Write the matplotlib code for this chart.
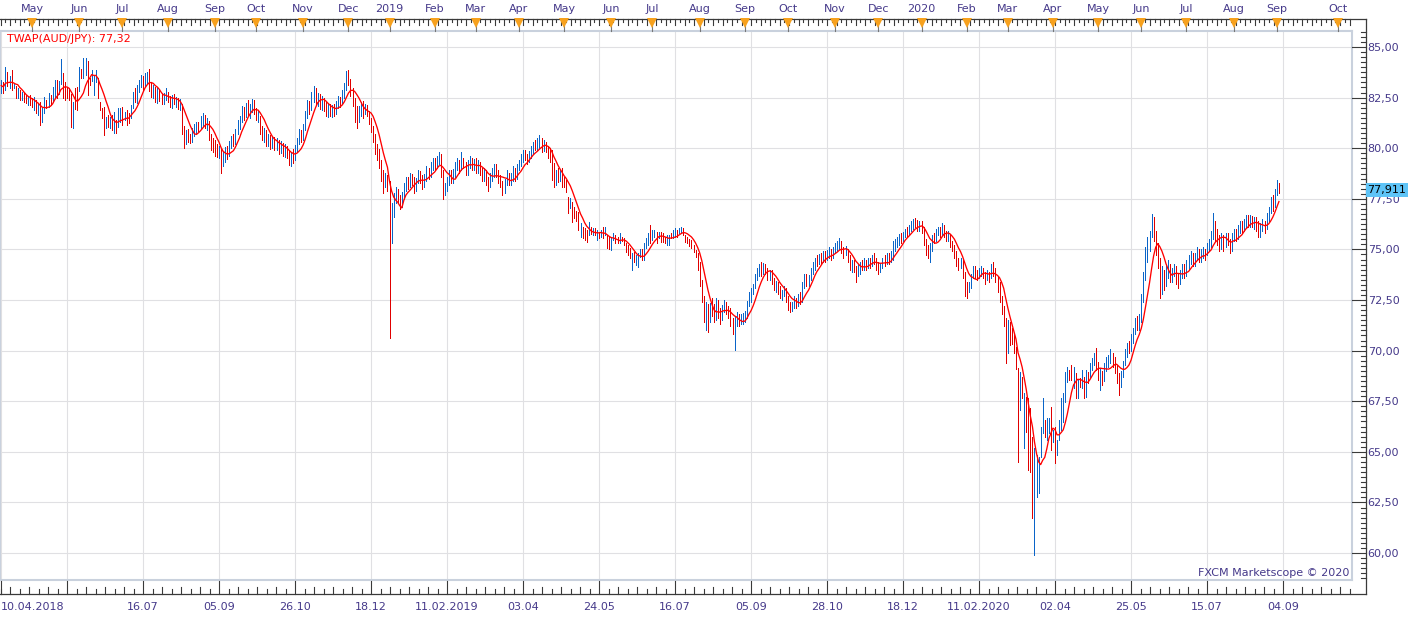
import numpy as np
import pandas as pd
import matplotlib
matplotlib.use("Agg")
import matplotlib.pyplot as plt
import matplotlib.transforms as mtransforms
from matplotlib.ticker import FixedLocator, FuncFormatter

plt.rcParams['font.family'] = ['DejaVu Sans']

# ---------------- data ----------------
START = "2018-04-10"
HOLIDAYS = ["2018-12-25", "2019-01-01", "2019-12-25", "2020-01-01"]
FIRST_OPEN = 82.95

CLOSE = [
    # 2018-04
    83.20, 82.90, 83.75, 83.20, 83.45, 83.00, 83.08, 82.55, 82.85, 82.50, 82.72, 82.42, 82.30, 82.50, 82.22,
    # 2018-05
    82.12, 82.38, 81.88, 82.05, 81.40, 81.92, 82.40, 82.12, 82.62, 82.32, 82.92, 83.22, 82.75, 83.20, 83.70,
    82.85, 82.70, 82.55, 82.45, 81.30, 82.10, 82.05, 82.00,
    # 2018-06
    83.80, 83.55, 83.60, 84.30, 83.40, 83.35, 83.50, 83.60, 83.80, 82.75, 82.05, 81.60, 81.40, 81.45, 81.15,
    81.35, 81.10, 81.55, 80.95, 81.80, 81.95,
    # 2018-07
    81.30, 81.70, 81.35, 81.28, 81.90, 82.70, 82.40, 82.85, 83.30, 83.45, 83.10, 83.50, 83.65, 83.05, 82.70,
    82.95, 82.40, 82.80, 82.55, 82.35, 82.60, 82.75,
    # 2018-08
    82.45, 82.20, 82.55, 82.35, 82.40, 82.10, 82.25, 81.00, 80.30, 80.70, 80.50, 80.35, 80.80, 80.90, 81.20,
    81.05, 81.40, 81.55, 81.20, 81.30, 80.60, 80.30, 80.10,
    # 2018-09
    79.80, 79.75, 79.95, 79.35, 79.55, 79.90, 79.70, 80.20, 80.45, 80.30, 80.80, 81.20, 81.45, 81.90, 81.70,
    82.10, 81.80, 82.00, 82.20, 81.90,
    # 2018-10
    81.50, 81.70, 80.90, 80.60, 80.85, 80.40, 80.55, 80.20, 80.45, 80.10, 80.30, 79.95, 80.15, 79.80, 80.00,
    79.70, 79.40, 79.65, 79.50, 80.00, 80.35, 80.70, 80.55,
    # 2018-11
    81.00, 81.60, 82.20, 82.00, 82.60, 82.85, 82.40, 82.60, 82.20, 82.45, 82.00, 81.80, 82.10, 81.75, 82.00,
    81.85, 82.20, 82.45, 82.30, 82.70, 83.10, 83.50,
    # 2018-12
    83.20, 82.90, 82.30, 82.00, 81.60, 82.00, 82.20, 81.90, 82.10, 81.80, 81.40, 81.00, 80.60, 80.00, 79.90,
    79.30, 78.80, 78.40, 78.60, 78.30,
    # 2019-01
    76.80, 77.00, 77.60, 77.90, 77.50, 77.20, 77.70, 78.10, 78.40, 78.20, 78.60, 78.50, 78.10, 78.40, 78.70,
    78.50, 78.30, 78.60, 78.90, 78.70, 79.10, 79.30,
    # 2019-02
    79.20, 79.40, 79.60, 78.80, 77.90, 78.10, 78.40, 78.70, 78.50, 78.80, 79.10, 79.30, 79.00, 79.40, 79.20,
    78.90, 79.20, 79.40, 79.10, 79.30,
    # 2019-03
    79.00, 79.20, 78.90, 78.60, 78.80, 78.40, 78.20, 78.60, 78.90, 79.00, 78.80, 78.50, 78.30, 78.00, 78.40,
    78.70, 78.40, 78.60, 78.90, 78.70, 79.00,
    # 2019-04
    79.30, 79.50, 79.80, 79.60, 79.40, 79.70, 79.90, 80.20, 80.10, 80.30, 80.40, 79.90, 80.20, 80.00, 79.60,
    79.40, 78.60, 78.30, 78.80, 78.50, 78.90, 78.70,
    # 2019-05
    78.30, 77.95, 77.40, 77.50, 76.80, 76.70, 76.60, 76.20, 76.25, 75.90, 75.70, 75.60, 75.90, 75.80, 75.95,
    75.75, 75.85, 75.70, 75.80, 75.60, 75.75, 75.30, 75.20,
    # 2019-06
    75.40, 75.60, 75.50, 75.35, 75.60, 75.45, 75.30, 75.00, 74.90, 74.70, 74.75, 74.55, 74.60, 74.70, 74.80,
    74.75, 75.00, 75.40, 75.65, 75.50,
    # 2019-07
    75.80, 75.85, 75.50, 75.60, 75.55, 75.45, 75.40, 75.55, 75.65, 75.60, 75.80, 75.90, 75.75, 75.95, 76.05,
    75.85, 75.55, 75.40, 75.30, 75.15, 74.95, 74.80, 74.30,
    # 2019-08
    73.40, 72.60, 71.80, 72.10, 71.60, 72.20, 72.00, 71.60, 72.40, 71.80, 71.70, 72.10, 72.30, 72.00, 71.90,
    71.40, 71.20, 71.50, 71.70, 71.40, 71.60, 71.60,
    # 2019-09
    71.80, 72.30, 72.60, 72.90, 73.20, 73.60, 73.90, 74.10, 73.90, 74.20, 74.00, 73.70, 73.90, 73.50, 73.20,
    73.30, 73.00, 72.80, 72.90, 73.00, 72.60,
    # 2019-10
    72.20, 72.10, 72.30, 72.50, 72.30, 72.60, 72.50, 73.20, 73.60, 73.40, 73.60, 73.90, 74.20, 74.50, 74.40,
    74.60, 74.50, 74.70, 74.60, 74.80, 74.90, 74.70, 74.90,
    # 2019-11
    75.10, 75.20, 75.30, 75.00, 74.80, 75.00, 74.60, 74.20, 74.40, 74.10, 73.80, 74.10, 74.30, 74.20, 74.40,
    74.20, 74.40, 74.30, 74.60, 74.50, 74.20,
    # 2019-12
    74.00, 74.20, 74.50, 74.40, 74.60, 74.50, 74.70, 75.10, 75.30, 75.40, 75.60, 75.50, 75.70, 75.90, 75.80,
    76.00, 76.20, 76.40, 76.30, 76.10, 76.20,
    # 2020-01
    76.00, 75.40, 75.00, 74.90, 75.00, 75.60, 75.50, 75.90, 76.00, 75.80, 76.00, 75.80, 75.60, 75.70, 75.30,
    75.10, 74.80, 74.50, 74.30, 74.40, 73.80, 73.30,
    # 2020-02
    73.10, 73.20, 73.70, 74.00, 73.80, 73.70, 73.90, 74.00, 73.80, 73.60, 73.80, 73.70, 74.00, 73.90, 73.60,
    73.30, 72.60, 72.10, 71.50, 70.40,
    # 2020-03
    70.90, 70.50, 70.40, 69.95, 69.30, 67.10, 68.60, 67.80, 67.85, 66.20, 64.60, 64.30, 62.40, 63.50, 64.50,
    64.70, 66.00, 67.30, 66.20, 66.50, 66.60, 65.50,
    # 2020-04
    65.95, 64.80, 65.00, 66.40, 67.40, 67.60, 68.80, 69.00, 68.90, 68.70, 68.95, 67.90, 68.40, 68.30, 68.80,
    68.65, 68.95, 68.90, 69.30, 69.55, 69.80, 69.20,
    # 2020-05
    68.70, 68.90, 68.60, 69.20, 69.40, 69.60, 69.80, 69.50, 69.20, 68.70, 68.30, 68.90, 69.30, 69.90, 70.20,
    70.10, 70.60, 70.90, 71.40, 71.30, 71.50,
    # 2020-06
    72.60, 73.60, 74.90, 75.30, 75.70, 76.20, 75.80, 75.00, 74.40, 73.20, 73.80, 73.50, 73.90, 74.20, 73.70,
    73.90, 74.10, 73.60, 73.50, 73.80, 74.10, 73.90,
    # 2020-07
    74.30, 74.50, 74.70, 74.40, 74.60, 74.90, 74.60, 74.80, 74.90, 74.70, 75.10, 75.30, 75.70, 76.20, 75.80,
    75.50, 75.30, 75.60, 75.20, 75.60, 75.40, 75.10, 75.60,
    # 2020-08
    75.80, 75.60, 76.00, 76.20, 76.00, 76.30, 76.50, 76.30, 76.50, 76.30, 76.40, 76.20, 75.90, 76.10, 76.30,
    76.10, 76.60, 76.90, 77.40, 77.20, 77.80,
    # 2020-09
    78.20, 77.911,
]

HIGH = [
    # 2018-04
    83.37, 83.25, 84.03, 83.75, 83.55, 83.86, 83.15, 83.05, 82.96, 82.88, 82.80, 82.75, 82.63, 82.55, 82.63,
    # 2018-05
    82.46, 82.55, 82.38, 82.22, 82.30, 82.05, 82.55, 82.40, 82.71, 82.62, 83.04, 83.37, 83.37, 83.30, 84.40,
    83.70, 83.29, 83.00, 82.96, 82.70, 82.30, 82.96, 83.04,
    # 2018-06
    84.03, 83.90, 84.45, 84.45, 84.30, 83.45, 83.86, 83.62, 83.86, 83.45, 82.30, 81.97, 82.05, 81.56, 81.64,
    81.56, 81.64, 81.81, 81.39, 81.97, 81.97,
    # 2018-07
    82.05, 81.81, 81.89, 81.72, 82.14, 82.79, 82.96, 83.12, 83.37, 83.60, 83.55, 83.70, 83.75, 83.90, 83.20,
    83.10, 83.00, 82.95, 82.90, 82.70, 82.75, 82.95,
    # 2018-08
    82.80, 82.60, 82.65, 82.70, 82.55, 82.50, 82.45, 82.20, 81.10, 80.90, 80.95, 80.70, 81.00, 81.20, 81.31,
    81.30, 81.60, 81.72, 81.65, 81.50, 81.35, 80.70, 80.50,
    # 2018-09
    80.40, 80.20, 80.10, 80.00, 79.80, 80.05, 80.10, 80.35, 80.60, 80.70, 80.95, 81.40, 81.60, 82.10, 82.05,
    82.25, 82.40, 82.20, 82.45, 82.40,
    # 2018-10
    82.00, 81.85, 81.60, 81.10, 81.00, 80.90, 80.70, 80.65, 80.60, 80.55, 80.50, 80.40, 80.35, 80.25, 80.20,
    80.10, 79.90, 79.80, 79.95, 80.15, 80.50, 80.95, 80.90,
    # 2018-11
    81.20, 81.85, 82.40, 82.35, 82.80, 83.05, 82.95, 82.75, 82.70, 82.60, 82.50, 82.30, 82.25, 82.20, 82.15,
    82.20, 82.35, 82.60, 82.55, 82.90, 83.20, 83.80,
    # 2018-12
    83.86, 83.40, 82.95, 82.50, 82.10, 82.10, 82.30, 82.35, 82.20, 82.15, 81.85, 81.50, 81.10, 80.70, 80.20,
    79.95, 79.40, 78.90, 78.80, 78.70,
    # 2019-01
    78.40, 77.30, 77.80, 78.10, 78.00, 77.70, 77.85, 78.30, 78.60, 78.60, 78.80, 78.75, 78.60, 78.55, 78.90,
    78.85, 78.70, 78.75, 79.10, 79.00, 79.30, 79.50,
    # 2019-02
    79.50, 79.60, 79.80, 79.70, 78.90, 78.30, 78.60, 78.90, 78.90, 78.95, 79.30, 79.50, 79.40, 79.80, 79.50,
    79.30, 79.40, 79.60, 79.50, 79.45,
    # 2019-03
    79.50, 79.40, 79.30, 79.00, 79.00, 78.90, 78.60, 78.80, 79.00, 79.20, 79.20, 78.90, 78.70, 78.40, 78.50,
    78.90, 78.80, 78.80, 79.10, 79.00, 79.20,
    # 2019-04
    79.40, 79.70, 79.90, 79.90, 79.70, 79.85, 80.10, 80.30, 80.40, 80.50, 80.65, 80.50, 80.40, 80.30, 80.10,
    80.00, 79.90, 79.25, 78.90, 79.00, 78.95, 79.00,
    # 2019-05
    78.60, 78.43, 77.60, 77.55, 77.36, 77.11, 76.90, 76.86, 76.29, 76.12, 76.04, 75.96, 76.37, 76.12, 76.04,
    76.04, 75.96, 75.88, 75.95, 76.12, 76.12, 75.71, 75.60,
    # 2019-06
    75.63, 75.79, 75.71, 75.63, 75.79, 75.63, 75.55, 75.30, 75.22, 75.05, 74.81, 74.89, 74.72, 74.81, 75.00,
    75.00, 75.30, 75.55, 75.79, 76.21,
    # 2019-07
    75.96, 75.96, 75.88, 75.88, 75.88, 75.79, 75.63, 75.71, 75.71, 75.79, 75.96, 76.04, 75.96, 76.04, 76.12,
    76.04, 75.71, 75.63, 75.50, 75.46, 75.22, 74.97, 74.81,
    # 2019-08
    74.40, 73.50, 72.70, 72.40, 72.30, 72.35, 72.60, 72.30, 72.60, 72.50, 72.10, 72.25, 72.50, 72.40, 72.20,
    72.10, 71.60, 71.70, 71.90, 71.80, 71.80, 71.85,
    # 2019-09
    71.95, 72.45, 72.90, 73.10, 73.30, 73.80, 74.10, 74.30, 74.40, 74.35, 74.30, 74.10, 74.00, 74.00, 73.60,
    73.45, 73.40, 73.20, 73.00, 73.20, 73.10,
    # 2019-10
    72.70, 72.40, 72.40, 72.70, 72.60, 72.80, 72.90, 73.40, 73.80, 73.80, 73.75, 74.10, 74.40, 74.60, 74.70,
    74.75, 74.80, 74.90, 74.90, 74.95, 75.10, 75.00, 75.10,
    # 2019-11
    75.30, 75.40, 75.55, 75.40, 75.10, 75.15, 75.00, 74.70, 74.50, 74.50, 74.20, 74.30, 74.40, 74.50, 74.60,
    74.50, 74.60, 74.60, 74.70, 74.80, 74.60,
    # 2019-12
    74.40, 74.35, 74.60, 74.70, 74.80, 74.80, 74.90, 75.40, 75.50, 75.60, 75.75, 75.80, 75.85, 76.00, 76.10,
    76.20, 76.40, 76.50, 76.55, 76.45, 76.40,
    # 2020-01
    76.40, 76.10, 75.50, 75.20, 75.30, 75.70, 75.80, 76.00, 76.10, 76.10, 76.30, 76.20, 75.90, 75.90, 75.75,
    75.40, 75.20, 74.90, 74.60, 74.60, 74.50, 73.90,
    # 2020-02
    73.40, 73.40, 73.80, 74.20, 74.20, 74.00, 74.10, 74.20, 74.10, 73.90, 74.00, 73.90, 74.30, 74.40, 74.10,
    73.70, 73.40, 72.70, 72.20, 71.60,
    # 2020-03
    71.50, 71.40, 71.10, 70.80, 70.20, 69.12, 68.96, 68.71, 67.89, 67.72, 67.64, 67.15, 65.75, 65.17, 64.84,
    64.76, 66.24, 67.64, 66.57, 66.65, 66.65, 67.23,
    # 2020-04
    66.08, 66.24, 65.58, 66.57, 67.64, 67.89, 68.96, 69.21, 69.04, 69.29, 69.21, 68.88, 68.55, 68.63, 69.04,
    68.71, 69.04, 68.96, 69.37, 69.62, 69.86, 70.11,
    # 2020-05
    69.45, 69.12, 69.00, 69.40, 69.70, 69.80, 70.10, 69.90, 69.70, 69.30, 68.90, 69.00, 69.50, 70.10, 70.40,
    70.50, 70.80, 71.10, 71.60, 71.70, 71.80,
    # 2020-06
    72.80, 73.90, 75.10, 75.60, 75.90, 76.75, 76.60, 75.90, 75.30, 74.60, 74.20, 74.00, 74.30, 74.50, 74.30,
    74.10, 74.30, 74.20, 73.80, 74.00, 74.30, 74.30,
    # 2020-07
    74.50, 74.70, 74.90, 74.80, 74.80, 75.10, 75.00, 75.00, 75.10, 75.00, 75.30, 75.50, 75.90, 76.80, 76.40,
    76.00, 75.70, 75.80, 75.70, 75.80, 75.80, 75.50, 75.80,
    # 2020-08
    76.00, 76.00, 76.20, 76.40, 76.40, 76.50, 76.70, 76.70, 76.70, 76.65, 76.60, 76.60, 76.40, 76.30, 76.50,
    76.40, 76.80, 77.10, 77.60, 77.70, 78.00,
    # 2020-09
    78.45, 78.30,
]

LOW = [
    # 2018-04
    82.71, 82.75, 82.90, 83.05, 82.96, 82.88, 82.95, 82.46, 82.50, 82.38, 82.40, 82.30, 82.22, 82.14, 82.14,
    # 2018-05
    82.05, 81.89, 81.72, 81.64, 81.15, 81.31, 81.72, 81.97, 82.05, 82.14, 82.30, 82.46, 82.46, 82.70, 83.15,
    82.46, 82.38, 82.46, 82.38, 81.06, 80.98, 81.95, 81.90,
    # 2018-06
    82.85, 83.45, 83.45, 83.60, 82.63, 83.12, 83.30, 82.63, 83.29, 82.46, 81.89, 81.48, 80.65, 80.98, 81.06,
    80.98, 80.90, 80.73, 80.73, 81.06, 81.31,
    # 2018-07
    81.15, 81.40, 81.15, 81.25, 81.48, 81.97, 82.30, 82.22, 82.79, 83.00, 82.90, 83.05, 83.20, 82.85, 82.55,
    82.50, 82.30, 82.25, 82.35, 82.20, 82.20, 82.40,
    # 2018-08
    82.30, 82.05, 82.00, 82.20, 82.05, 81.95, 81.90, 80.70, 80.00, 80.20, 80.30, 80.24, 80.30, 80.60, 80.70,
    80.80, 80.95, 81.10, 81.00, 80.90, 80.40, 79.90, 79.80,
    # 2018-09
    79.60, 79.55, 79.50, 78.80, 79.10, 79.30, 79.45, 79.60, 80.00, 80.10, 80.20, 80.70, 80.95, 81.30, 81.40,
    81.55, 81.60, 81.50, 81.80, 81.70,
    # 2018-10
    81.40, 81.30, 80.70, 80.40, 80.30, 80.10, 80.10, 79.95, 80.00, 79.90, 79.90, 79.70, 79.75, 79.60, 79.55,
    79.50, 79.15, 79.10, 79.25, 79.40, 79.80, 80.20, 80.30,
    # 2018-11
    80.40, 80.90, 81.50, 81.70, 81.90, 82.30, 82.20, 82.10, 81.95, 81.90, 81.85, 81.60, 81.55, 81.60, 81.55,
    81.60, 81.70, 82.00, 82.05, 82.20, 82.50, 82.90,
    # 2018-12
    83.10, 82.60, 82.10, 81.30, 81.00, 81.30, 81.60, 81.50, 81.70, 81.60, 81.20, 80.80, 80.30, 79.70, 79.40,
    79.00, 78.40, 77.80, 78.10, 77.90,
    # 2019-01
    70.60, 75.30, 76.60, 77.30, 77.30, 77.00, 77.10, 77.50, 77.90, 78.00, 78.10, 78.20, 77.80, 77.90, 78.30,
    78.30, 78.00, 78.10, 78.40, 78.50, 78.60, 78.90,
    # 2019-02
    78.90, 79.00, 79.20, 78.60, 77.50, 77.70, 77.90, 78.20, 78.30, 78.30, 78.60, 78.90, 78.80, 78.90, 79.00,
    78.70, 78.70, 79.00, 78.90, 78.90,
    # 2019-03
    78.80, 78.80, 78.70, 78.40, 78.40, 78.20, 77.90, 78.10, 78.40, 78.60, 78.60, 78.30, 78.10, 77.70, 77.80,
    78.20, 78.20, 78.20, 78.40, 78.40, 78.50,
    # 2019-04
    78.90, 79.10, 79.30, 79.40, 79.20, 79.30, 79.50, 79.70, 79.90, 79.90, 80.00, 79.80, 79.85, 79.80, 79.50,
    79.30, 78.43, 78.10, 78.20, 78.35, 78.40, 78.10,
    # 2019-05
    78.10, 77.85, 76.80, 77.03, 76.37, 76.54, 76.40, 75.96, 75.63, 75.55, 75.46, 75.38, 75.70, 75.75, 75.71,
    75.71, 75.46, 75.55, 75.60, 75.55, 75.71, 75.05, 75.00,
    # 2019-06
    74.97, 75.46, 75.30, 75.30, 75.30, 75.40, 75.20, 74.89, 74.72, 74.56, 73.98, 74.39, 74.23, 74.15, 74.64,
    74.50, 74.48, 75.05, 75.22, 75.30,
    # 2019-07
    75.46, 75.60, 75.30, 75.55, 75.38, 75.38, 75.30, 75.22, 75.22, 75.55, 75.55, 75.63, 75.63, 75.79, 75.79,
    75.71, 75.38, 75.30, 75.15, 75.05, 74.89, 74.64, 73.98,
    # 2019-08
    73.20, 72.40, 71.40, 71.00, 70.90, 71.40, 71.70, 71.40, 71.50, 71.60, 71.30, 71.50, 71.90, 71.80, 71.60,
    71.20, 70.80, 70.03, 71.20, 71.20, 71.30, 71.30,
    # 2019-09
    71.40, 71.60, 72.20, 72.40, 72.80, 73.10, 73.50, 73.70, 73.70, 73.80, 73.80, 73.50, 73.50, 73.30, 73.00,
    72.90, 72.80, 72.60, 72.50, 72.70, 72.40,
    # 2019-10
    72.00, 71.90, 71.95, 72.10, 72.10, 72.20, 72.30, 72.40, 73.10, 73.20, 73.20, 73.50, 73.80, 74.00, 74.20,
    74.30, 74.30, 74.40, 74.40, 74.50, 74.60, 74.50, 74.60,
    # 2019-11
    74.80, 74.90, 75.00, 74.80, 74.60, 74.70, 74.40, 74.00, 73.90, 73.90, 73.40, 73.70, 73.80, 74.00, 74.00,
    74.00, 74.10, 74.10, 74.20, 74.30, 74.00,
    # 2019-12
    73.80, 73.90, 74.10, 74.20, 74.30, 74.30, 74.40, 74.50, 74.90, 75.10, 75.20, 75.30, 75.40, 75.60, 75.60,
    75.70, 75.90, 76.00, 76.10, 75.90, 75.90,
    # 2020-01
    75.80, 75.20, 74.70, 74.60, 74.40, 74.90, 75.30, 75.40, 75.70, 75.60, 75.70, 75.60, 75.40, 75.40, 75.10,
    74.90, 74.60, 74.20, 74.00, 74.10, 73.60, 72.70,
    # 2020-02
    72.60, 72.90, 73.10, 73.60, 73.60, 73.50, 73.60, 73.70, 73.60, 73.30, 73.50, 73.40, 73.60, 73.70, 73.40,
    72.90, 72.40, 71.80, 71.20, 69.40,
    # 2020-03
    69.90, 70.30, 70.35, 69.90, 69.10, 64.51, 67.06, 67.64, 65.17, 65.99, 64.10, 64.02, 61.71, 59.90, 62.78,
    62.95, 64.76, 65.91, 65.75, 65.58, 65.91, 65.09,
    # 2020-04
    65.50, 64.43, 64.84, 65.58, 66.08, 66.49, 67.48, 68.46, 68.55, 68.55, 68.13, 67.64, 67.64, 68.22, 68.13,
    67.64, 67.72, 68.38, 68.63, 69.04, 69.29, 69.04,
    # 2020-05
    68.55, 68.05, 68.30, 68.50, 69.00, 69.20, 69.40, 69.20, 68.90, 68.40, 67.80, 68.20, 68.70, 69.30, 69.70,
    69.90, 70.00, 70.40, 70.80, 71.00, 71.00,
    # 2020-06
    71.40, 72.40, 73.50, 74.40, 74.90, 75.60, 75.40, 74.70, 74.10, 72.60, 72.80, 73.00, 73.20, 73.60, 73.40,
    73.40, 73.70, 73.30, 73.10, 73.30, 73.60, 73.60,
    # 2020-07
    73.70, 74.00, 74.30, 74.20, 74.20, 74.50, 74.40, 74.40, 74.60, 74.50, 74.70, 74.90, 75.10, 75.50, 75.40,
    75.20, 74.90, 75.00, 74.90, 75.10, 75.20, 74.80, 74.90,
    # 2020-08
    75.40, 75.40, 75.50, 75.80, 75.80, 75.90, 76.10, 76.10, 76.10, 76.10, 76.00, 75.90, 75.60, 75.60, 75.90,
    75.80, 76.00, 76.40, 76.80, 76.90, 77.10,
    # 2020-09
    77.70, 77.80,
]

TWAP_PERIOD = 7
TWAP_LABEL_VALUE = 77.32
PRICE_LEVELS = [60.0, 62.5, 65.0, 67.5, 70.0, 72.5, 75.0, 77.5, 80.0, 82.5, 85.0]
Y_RANGE = (58.67, 85.79)
FIRST_GRID_BAR = 32
GRID_STEP = 37
INSTRUMENT = "AUD/JPY"
COPYRIGHT = "FXCM Marketscope \u00a9 2020"

assert len(CLOSE) == len(HIGH) == len(LOW), (len(CLOSE), len(HIGH), len(LOW))

# ---------------- styling ----------------
W, H = 1423, 619
BLUE = "#0a64c8"
RED_BAR = "#e00000"
RED_LINE = "#ff0000"
GRID = "#e0e0e3"
FRAME = "#c9d1dd"
LAB = "#45398a"
AXLINE = "#3a3a3a"
ORANGE = "#f7a11d"
PRICE_BOX = "#5ec4f7"


def fx(px):
    return px / W


def fy(py):
    return 1 - py / H


def fmt_price(v, nd=2):
    return f"{v:.{nd}f}".replace(".", ",")


n = len(CLOSE)
idx = np.arange(n)
close = np.array(CLOSE)
high = np.array(HIGH)
low = np.array(LOW)
opn = np.r_[FIRST_OPEN, close[:-1]]
up = close >= opn
colors = np.where(up, BLUE, RED_BAR)
typical = (high + low + close) / 3.0
twap = pd.Series(typical).rolling(TWAP_PERIOD, min_periods=1).mean().to_numpy()

# dates (trading days, then calendar days for the empty future area)
hol = pd.to_datetime(HOLIDAYS)
bd = pd.bdate_range(START, periods=n + 20)
bd = bd[~bd.isin(hol)][:n]
future = pd.date_range(bd[-1] + pd.Timedelta(days=1), periods=80, freq="D")
dates = bd.append(future)

PX_PER_BAR = 76.0 / 37.0
X0_PX = 1.3
xlo = -X0_PX / PX_PER_BAR
xhi = (1352 - X0_PX) / PX_PER_BAR

fig = plt.figure(figsize=(W / 100, H / 100), dpi=100)
fig.patch.set_facecolor("white")
ax = fig.add_axes([0, fy(580), fx(1352), fy(31) - fy(580)])
ax.set_facecolor("white")

# bars and TWAP
ax.vlines(idx, low, high, colors=colors, linewidth=0.6, antialiased=False, zorder=2)
ax.plot(idx, twap, color=RED_LINE, linewidth=0.95, zorder=3)

# grid
majors = [0] + list(range(FIRST_GRID_BAR, int(xhi) + 1, GRID_STEP))
ax.xaxis.set_major_locator(FixedLocator(majors))
ax.yaxis.set_major_locator(FixedLocator(PRICE_LEVELS))
ax.yaxis.set_major_formatter(FuncFormatter(lambda v, p: fmt_price(v)))
ax.grid(True, color=GRID, linewidth=0.8)
ax.set_axisbelow(True)
ax.tick_params(axis="x", length=0, labelbottom=False)
ax.tick_params(axis="y", length=0, left=False, labelleft=False, right=False,
               labelright=True, pad=11.3, labelsize=8, labelcolor=LAB)
for s in ax.spines.values():
    s.set_color(FRAME)
    s.set_linewidth(1.5)

tx_top = mtransforms.blended_transform_factory(ax.transData, fig.transFigure)
ty_right = mtransforms.blended_transform_factory(fig.transFigure, ax.transData)

# frame lines of the scales
ax.plot([fx(0), fx(1365.5)], [fy(18.5), fy(18.5)], transform=fig.transFigure,
        color=AXLINE, lw=0.9, clip_on=False, zorder=5)
ax.plot([fx(1365.5), fx(1365.5)], [fy(18.5), fy(593.5)], transform=fig.transFigure,
        color=AXLINE, lw=0.9, clip_on=False, zorder=5)
ax.plot([fx(0), fx(1365.5)], [fy(593.5), fy(593.5)], transform=fig.transFigure,
        color=AXLINE, lw=0.9, clip_on=False, zorder=5)

# bottom ticks
sub = GRID_STEP / 8.0
k0 = int(np.ceil((xlo - FIRST_GRID_BAR) / sub))
k1 = int(np.floor((xhi - FIRST_GRID_BAR) / sub))
for k in range(k0, k1 + 1):
    xv = FIRST_GRID_BAR + k * sub
    if k % 8 == 0:
        top_px = 580.5
    elif k % 2 == 0:
        top_px = 586.5
    else:
        top_px = 589.0
    ax.plot([xv, xv], [fy(top_px), fy(593.5)], transform=tx_top, color=AXLINE,
            lw=0.8, clip_on=False, zorder=5)
ax.plot([0, 0], [fy(580.5), fy(593.5)], transform=tx_top, color=AXLINE,
        lw=0.8, clip_on=False, zorder=5)

# top ticks
sub2 = GRID_STEP / 16.0
k0 = int(np.ceil((xlo - FIRST_GRID_BAR) / sub2))
k1 = int(np.floor((xhi - FIRST_GRID_BAR) / sub2))
for k in range(k0, k1 + 1):
    xv = FIRST_GRID_BAR + k * sub2
    bot_px = 24.5 if k % 2 == 0 else 22.0
    ax.plot([xv, xv], [fy(18.5), fy(bot_px)], transform=tx_top, color=AXLINE,
            lw=0.8, clip_on=False, zorder=5)

# month labels and markers on top
month_pos, month_lab = [], []
for i in range(1, len(dates)):
    if i > xhi:
        break
    if dates[i].month != dates[i - 1].month:
        month_pos.append(i)
        month_lab.append(str(dates[i].year) if dates[i].month == 1 else dates[i].strftime("%b"))
for p, lab in zip(month_pos, month_lab):
    ax.plot([p, p], [fy(18.5), fy(31)], transform=tx_top, color="#777777",
            lw=0.8, clip_on=False, zorder=5)
    ax.text(p, fy(9.5), lab, transform=tx_top, ha="center", va="center",
            fontsize=8, color=LAB, clip_on=False)
ax.plot(month_pos, [fy(23.0)] * len(month_pos), transform=tx_top, ls="none",
        marker="v", markersize=7.2, color=ORANGE, markeredgewidth=0,
        clip_on=False, zorder=6)

# bottom date labels
prev_year = None
for j, m in enumerate(majors):
    d = dates[m]
    if m == FIRST_GRID_BAR:
        continue
    if prev_year is None or d.year != prev_year:
        lab = d.strftime("%d.%m.%Y")
    else:
        lab = d.strftime("%d.%m")
    prev_year = d.year
    ax.text(m, fy(607), lab, transform=tx_top, ha="left" if m == 0 else "center",
            va="center", fontsize=8, color=LAB, clip_on=False)

# right ticks
for v in PRICE_LEVELS:
    ax.plot([fx(1351.5), fx(1365.5)], [v, v], transform=ty_right, color=AXLINE,
            lw=0.8, clip_on=False, zorder=5)
minor = np.arange(np.ceil(Y_RANGE[0] / 0.25) * 0.25, Y_RANGE[1], 0.25)
for v in minor:
    if np.any(np.isclose(v, PRICE_LEVELS)):
        continue
    ax.plot([fx(1360.5), fx(1365.5)], [v, v], transform=ty_right, color=AXLINE,
            lw=0.8, clip_on=False, zorder=5)

# current price box
ax.text(fx(1367.5), close[-1], fmt_price(close[-1], 3), transform=ty_right,
        ha="left", va="center", fontsize=8, color="black", zorder=7, clip_on=False,
        bbox=dict(boxstyle="square,pad=0.18", facecolor=PRICE_BOX, edgecolor="none"))

# legend & copyright
fig.text(fx(7), fy(39.5), f"TWAP({INSTRUMENT}): {fmt_price(TWAP_LABEL_VALUE)}",
         ha="left", va="center", fontsize=8, color=RED_LINE)
fig.text(fx(1349.5), fy(573.5), COPYRIGHT, ha="right", va="center", fontsize=8, color=LAB)

ax.set_xlim(xlo, xhi)
ax.set_ylim(*Y_RANGE)

fig.savefig("out.png", dpi=100, facecolor="white")
